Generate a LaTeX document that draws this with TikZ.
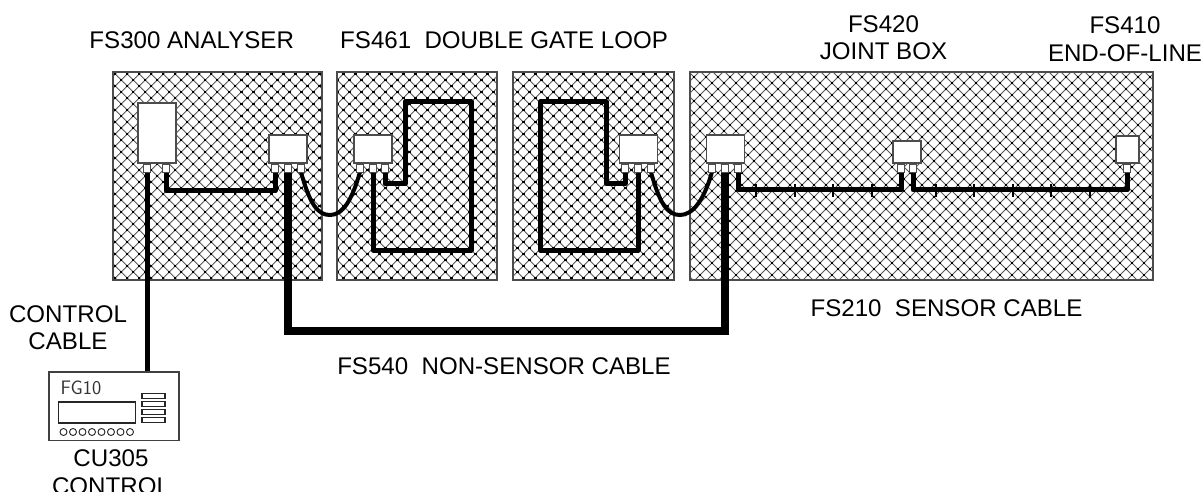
\documentclass[tikz,border=0pt]{standalone}
\usepackage{fontspec}
\setmainfont{Liberation Sans}
\tikzset{
 x=1pt,y=-1pt,
 lbl/.style={inner sep=0pt,align=center,font=\fontsize{24.1}{#1}\selectfont},
 lbl/.default=27,
 unitbox/.style={draw=black!70,fill=white,line width=1.2pt,inner sep=0pt,minimum width=#1},
 pinbox/.style={draw=black!70,fill=white,line width=1pt,inner sep=0pt,minimum width=6.5pt,minimum height=8pt},
 wire/.style={line width=5pt,line join=round},
 curvewire/.style={line width=4pt},
 fatwire/.style={line width=8pt,line join=miter},
 tick/.style={line width=1.5pt},
 panel/.style={draw=black!70,line width=1.4pt},
}
% #1 x of a crossing, #2 y of a crossing, #3 first k, #4 last k
\newcommand{\crosshatch}[4]{%
 \foreach \k in {#3,...,#4}{
  \draw[line width=.9pt,black!65] ({#1+\k*12-(#2-60)},60) -- ({#1+\k*12+(290-#2)},290);
  \draw[line width=.9pt,black!65] ({#1+\k*12+(#2-60)},60) -- ({#1+\k*12-(290-#2)},290);
 }
 \foreach \m in {-32,...,40}{
  \pgfmathsetmacro{\rowy}{#2+\m*6}
  \pgfmathsetmacro{\ph}{mod(\m+64,2)*6}
  \ifdim\rowy pt>60pt\ifdim\rowy pt<290pt
  \draw[line width=2.4pt,black,dash pattern=on 2.4pt off 9.6pt,dash phase=1.2pt] ({#1-12*90+\ph},\rowy) -- (1165,\rowy);
  \fi\fi
 }%
}
\begin{document}
\begin{tikzpicture}
\useasboundingbox (0,0) rectangle (1203,492);
\fill[white] (0,0) rectangle (1203,492);
\begin{scope}
 \clip (113,72) rectangle (322,280) (337,72) rectangle (497,280) (513,72) rectangle (674,280);
 \crosshatch{127.3}{74}{-20}{62}
\end{scope}
\begin{scope}
 \clip (690,72) rectangle (1153,280);
 \crosshatch{1084}{251}{-50}{28}
\end{scope}
\draw[panel] (113,72) rectangle (322,280);
\draw[panel] (337,72) rectangle (497,280);
\draw[panel] (513,72) rectangle (674,280);
\draw[panel] (690,72) rectangle (1153,280);

% pins
\foreach \n/\px in {a1/147,a2/166,b1/275,b2/288,b3/301,c1/360,c2/373,c3/385,d1/625,d2/638,d3/651,e1/712,e2/725,e3/738,f1/901,f2/913,g1/1127}{
 \coordinate (w\n) at (\px,172);
}
% wires
\draw[wire] (wa2) -- (166,191) -- (275,191) -- (wb1);
\draw[curvewire] (wb3) .. controls (310,205) and (318,215) .. (330,215) .. controls (343,215) and (352,200) .. (wc1);
\draw[curvewire] (wd3) .. controls (660,205) and (668,215) .. (680,215) .. controls (693,215) and (704,200) .. (we1);
\draw[wire] (wc3) -- (385,184) -- (405,184) -- (405,102) -- (471,102) -- (471,250) -- (373,250) -- (wc2);
\draw[wire] (wd1) -- (625,184) -- (606,184) -- (606,102) -- (540,102) -- (540,250) -- (638,250) -- (wd2);
\draw[wire] (we3) -- (738,190) -- (901,190) -- (wf1);
\draw[wire] (wf2) -- (913,190) -- (1127,190) -- (wg1);
\foreach \x in {756,795,833,872,936,974,1013,1051,1090}{\draw[tick] (\x,184) -- (\x,197);}
\node[draw=black!75,line width=1.2pt,fill=white,inner sep=0pt,minimum width=130pt,minimum height=68.5pt] (cu) at (114,406.3) {};
\draw[wire] (wa1) -- (cu.north -| wa1);
\draw[fatwire] (wb2) -- (288,330.5) -- (725,330.5) -- (we2);

% units
\node[unitbox=38pt,minimum height=60pt] (an) at (157,133) {};
\node[unitbox=38pt,minimum height=28pt] (u1) at (288,149) {};
\node[unitbox=38pt,minimum height=28pt] (u2) at (373,149) {};
\node[unitbox=38pt,minimum height=28pt] (u3) at (638.5,149) {};
\node[unitbox=38pt,minimum height=28pt] (u4) at (725.5,149) {};
\node[unitbox=28pt,minimum height=22pt] (jb) at (907,152) {};
\node[unitbox=23pt,minimum height=27pt] (eol) at (1127.5,149.5) {};
\foreach \n/\px in {a1/147,a2/166,b1/275,b2/288,b3/301,c1/360,c2/373,c3/385,d1/625,d2/638,d3/651,e1/712,e2/725,e3/738,f1/901,f2/913,g1/1127}{
 \node[pinbox] (p\n) at (\px,168.5) {};
}
% control unit face
\node[inner sep=0pt,anchor=west,font=\fontsize{19.5}{19.5}\selectfont\sffamily,text=black!80] (fg) at (60.5,387.5) {FG10};
\node[draw=black!85,line width=1.2pt,inner sep=0pt,minimum width=77pt,minimum height=21pt] (disp) at (97,412.5) {};
\foreach \i in {0,...,7}{\node[draw=black!85,line width=.9pt,circle,inner sep=0pt,minimum size=7pt] (o\i) at ({63.5+\i*9.5},432) {};}
\foreach \i in {0,...,3}{\node[draw=black!85,line width=1.2pt,inner sep=0pt,minimum width=23pt,minimum height=5pt] (b\i) at (153.5,{396+\i*8}) {};}

% labels
\node[lbl] (t1) at (191.7,40) {FS300 ANALYSER};
\node[lbl,anchor=west] (t2) at (340,40) {FS461\ \ DOUBLE GATE LOOP};
\node[lbl=26.5] (t3) at (883.5,37.5) {FS420\\JOINT BOX};
\node[lbl=28] (t4) at (1125,39.5) {FS410\\END-OF-LINE};
\node[lbl] (t5) at (946.5,308) {FS210\ \ SENSOR CABLE};
\node[lbl] (t6) at (504,366.5) {FS540\ \ NON-SENSOR CABLE};
\node[lbl] (t7) at (68,328) {CONTROL\\CABLE};
\node[lbl=28] (t8) at (111,472) {CU305\\CONTROL};
\end{tikzpicture}
\end{document}
